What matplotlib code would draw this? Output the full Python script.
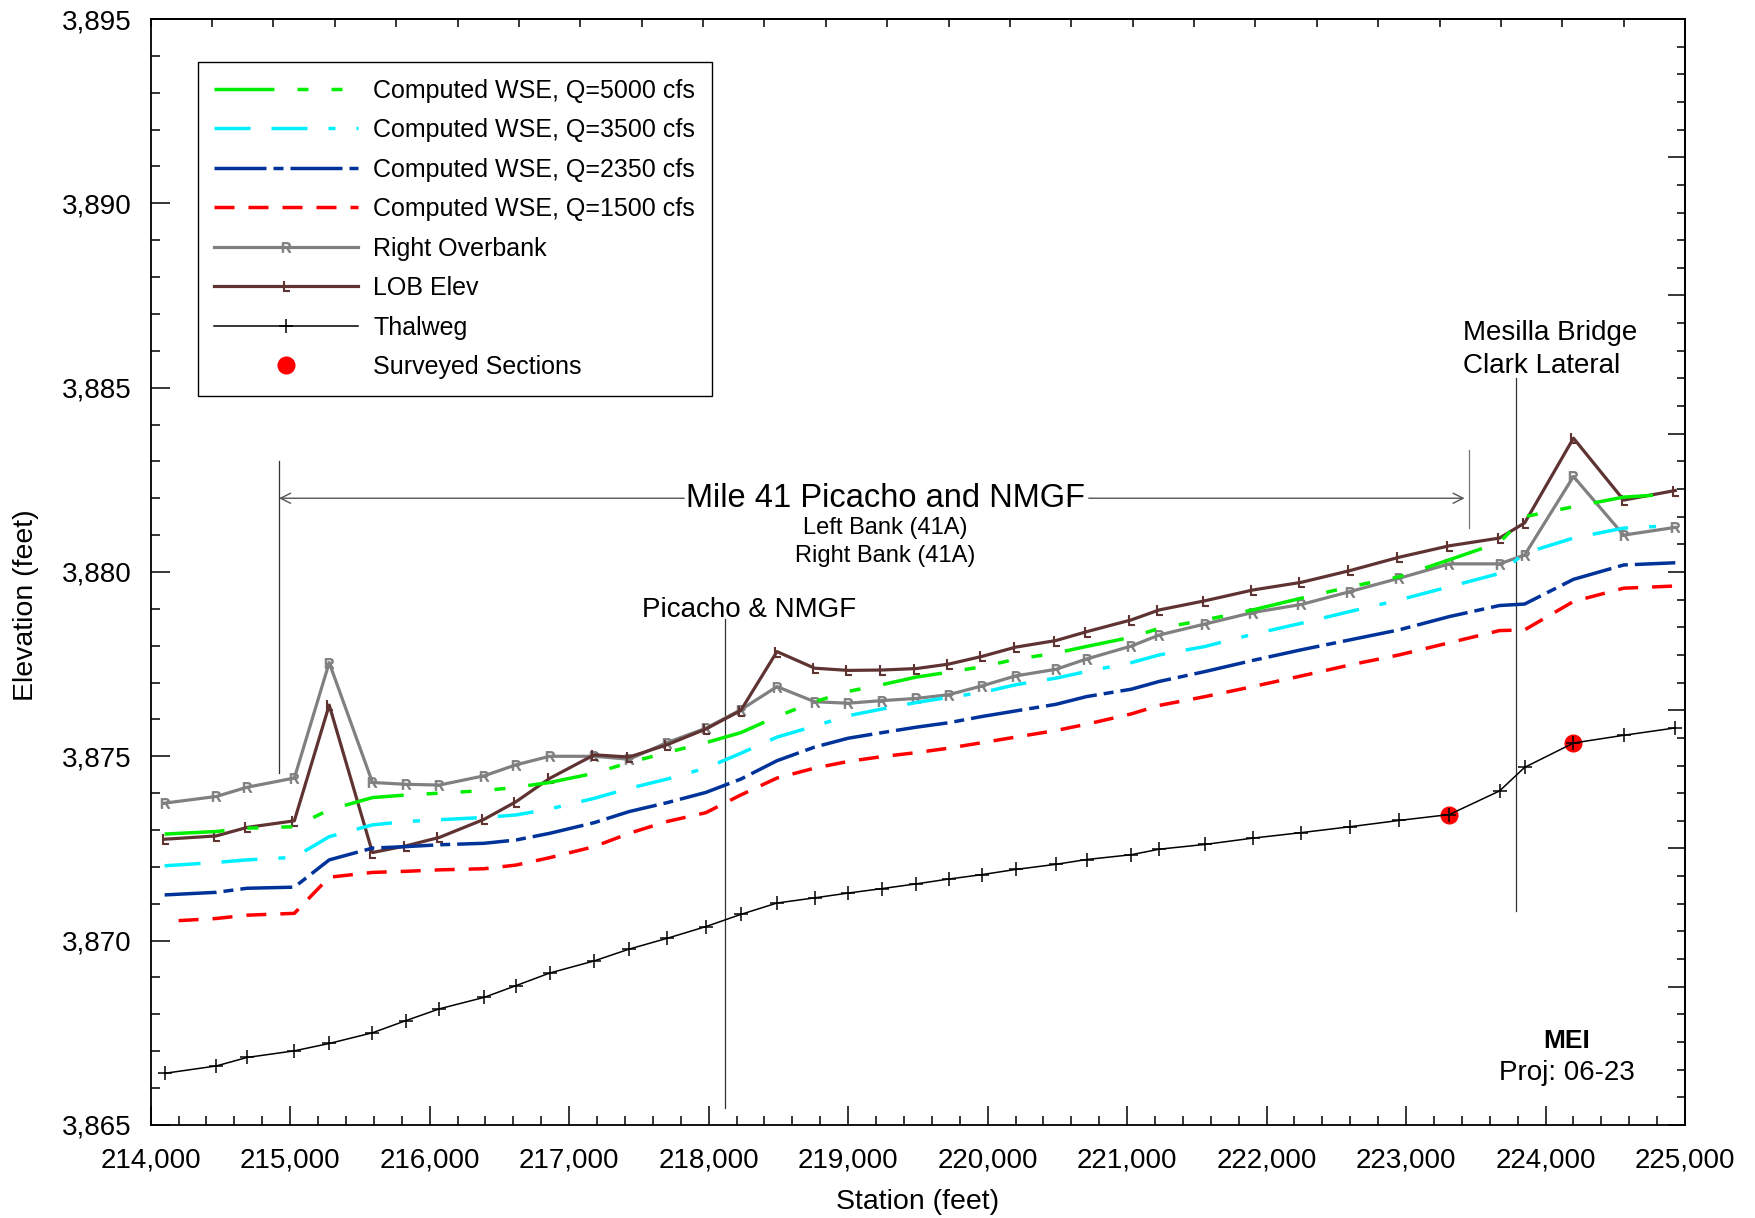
import matplotlib
matplotlib.use('Agg')
import matplotlib.pyplot as plt
from matplotlib.lines import Line2D
from matplotlib.ticker import MultipleLocator, FuncFormatter, FixedLocator, NullLocator

plt.rcParams['font.family'] = ['Liberation Sans', 'DejaVu Sans']
plt.rcParams['lines.scale_dashes'] = False
plt.rcParams['mathtext.fontset'] = 'custom'
plt.rcParams['mathtext.sf'] = 'Liberation Sans'

# ---------------- data ----------------
stations = [214100, 214470, 214690, 215030, 215280, 215590, 215830, 216070, 216390, 216620,
            216860, 217180, 217430, 217700, 217980, 218230, 218490, 218760, 219000, 219240,
            219490, 219720, 219960, 220200, 220490, 220710, 221030, 221230, 221560, 221900,
            222250, 222600, 222950, 223310, 223670, 223850, 224200, 224560, 224930]

wse_5000 = [3872.89, 3872.96, 3873.05, 3873.09, 3873.55, 3873.88, 3873.95, 3874.00, 3874.07, 3874.16,
            3874.29, 3874.54, 3874.83, 3875.10, 3875.37, 3875.64, 3876.08, 3876.48, 3876.76, 3876.94,
            3877.15, 3877.28, 3877.43, 3877.63, 3877.80, 3877.98, 3878.23, 3878.47, 3878.70, 3878.97,
            3879.29, 3879.60, 3879.87, 3880.33, 3880.80, 3881.50, 3881.77, 3882.03, 3882.12]
wse_3500 = [3872.03, 3872.12, 3872.19, 3872.26, 3872.82, 3873.14, 3873.23, 3873.28, 3873.34, 3873.41,
            3873.57, 3873.86, 3874.13, 3874.38, 3874.68, 3875.08, 3875.52, 3875.82, 3876.10, 3876.28,
            3876.46, 3876.60, 3876.73, 3876.94, 3877.12, 3877.30, 3877.54, 3877.75, 3877.98, 3878.31,
            3878.61, 3878.93, 3879.24, 3879.60, 3879.96, 3880.51, 3880.92, 3881.19, 3881.26]
wse_2350 = [3871.24, 3871.31, 3871.42, 3871.45, 3872.19, 3872.51, 3872.55, 3872.60, 3872.64, 3872.73,
            3872.91, 3873.20, 3873.50, 3873.74, 3874.02, 3874.38, 3874.88, 3875.25, 3875.49, 3875.64,
            3875.79, 3875.91, 3876.08, 3876.23, 3876.41, 3876.62, 3876.82, 3877.03, 3877.30, 3877.60,
            3877.89, 3878.16, 3878.43, 3878.79, 3879.09, 3879.13, 3879.80, 3880.19, 3880.25]
wse_1500 = [3870.52, 3870.60, 3870.69, 3870.74, 3871.72, 3871.85, 3871.88, 3871.92, 3871.95, 3872.05,
            3872.25, 3872.55, 3872.91, 3873.23, 3873.47, 3873.95, 3874.41, 3874.68, 3874.86, 3874.99,
            3875.10, 3875.22, 3875.37, 3875.52, 3875.70, 3875.87, 3876.15, 3876.38, 3876.62, 3876.89,
            3877.18, 3877.48, 3877.75, 3878.08, 3878.41, 3878.43, 3879.20, 3879.56, 3879.62]
right_overbank = [3873.73, 3873.91, 3874.16, 3874.41, 3877.54, 3874.29, 3874.24, 3874.22, 3874.47, 3874.77,
                  3875.00, 3875.00, 3874.92, 3875.37, 3875.76, 3876.26, 3876.89, 3876.48, 3876.44, 3876.51,
                  3876.57, 3876.67, 3876.91, 3877.18, 3877.36, 3877.64, 3877.99, 3878.29, 3878.59, 3878.90,
                  3879.12, 3879.47, 3879.83, 3880.22, 3880.22, 3880.46, 3882.59, 3881.00, 3881.21]
lob_elev = [3872.75, 3872.84, 3873.07, 3873.25, 3876.39, 3872.39, 3872.57, 3872.80, 3873.29, 3873.77,
            3874.40, 3875.04, 3874.98, 3875.31, 3875.74, 3876.24, 3877.84, 3877.39, 3877.33, 3877.34,
            3877.38, 3877.50, 3877.71, 3877.96, 3878.14, 3878.38, 3878.70, 3878.97, 3879.22, 3879.51,
            3879.72, 3880.04, 3880.40, 3880.71, 3880.92, 3881.33, 3883.63, 3881.95, 3882.21]
thalweg = [3866.40, 3866.60, 3866.83, 3867.01, 3867.21, 3867.50, 3867.83, 3868.15, 3868.46, 3868.78,
           3869.12, 3869.45, 3869.77, 3870.06, 3870.38, 3870.71, 3871.02, 3871.16, 3871.29, 3871.41,
           3871.54, 3871.67, 3871.79, 3871.93, 3872.07, 3872.20, 3872.33, 3872.48, 3872.61, 3872.78,
           3872.93, 3873.09, 3873.26, 3873.42, 3874.06, 3874.70, 3875.36, 3875.57, 3875.77]
surveyed_st = [223310, 224200]
surveyed_el = [3873.42, 3875.36]

series_labels = ['Computed WSE, Q=5000 cfs', 'Computed WSE, Q=3500 cfs',
                 'Computed WSE, Q=2350 cfs', 'Computed WSE, Q=1500 cfs',
                 'Right Overbank', 'LOB Elev', 'Thalweg', 'Surveyed Sections']

# ---------------- figure ----------------
fig = plt.figure(figsize=(17.56, 12.18), dpi=100)
ax = fig.add_axes([0.0858, 0.0764, 0.8738, 0.908])

P = 0.72  # px -> pt
red_dash = [20*P, 14*P]
h = []
h.append(ax.plot(stations, wse_5000, color='#00ee00', lw=2.5, zorder=4,
                 linestyle=(0, [60*P, 23*P, 11*P, 23*P, 11*P, 23*P, 11*P, 23*P]))[0])
h.append(ax.plot(stations, wse_3500, color='#00f0ff', lw=2.5, zorder=4,
                 linestyle=(0, [36*P, 21*P, 36*P, 21*P, 7*P, 21*P]))[0])
h.append(ax.plot(stations, wse_2350, color='#003399', lw=2.5, zorder=4,
                 linestyle=(0, [52*P, 7*P, 10*P, 7*P]))[0])
ax.plot(stations, wse_1500, color='#ff0000', lw=2.5, zorder=4, linestyle=(20*P, red_dash))
h.append(Line2D([], [], color='#ff0000', lw=2.5, linestyle=(0, red_dash)))
h.append(ax.plot(stations, right_overbank, color='#808080', lw=2.3, zorder=3,
                 marker='$\\mathsf{R}$', ms=7, mec='#808080', mfc='#808080', mew=0.8)[0])
h.append(ax.plot(stations, lob_elev, color='#603333', lw=2.3, zorder=3,
                 marker='$\\mathsf{L}$', ms=7, mec='#603333', mfc='#603333', mew=0.8)[0])
h.append(ax.plot(stations, thalweg, color='black', lw=1.1, zorder=6,
                 marker='+', ms=10, mew=1.1)[0])
h.append(ax.plot(surveyed_st, surveyed_el, linestyle='none', marker='o', ms=12,
                 color='#ff0000', mec='#ff0000', zorder=5)[0])

# ---------------- axes ----------------
ax.set_xlim(214000, 225000)
ax.set_ylim(3865, 3895)
ax.xaxis.set_major_locator(MultipleLocator(1000))
ax.xaxis.set_minor_locator(MultipleLocator(200))
ax.yaxis.set_major_locator(MultipleLocator(5))
ax.yaxis.set_minor_locator(MultipleLocator(1))
fmt = FuncFormatter(lambda v, p: f'{v:,.0f}')
ax.xaxis.set_major_formatter(fmt)
ax.yaxis.set_major_formatter(fmt)
ax.tick_params(which='major', direction='in', length=13.5, width=1.1, labelsize=20, pad=13.5,
               top=False, right=False)
ax.tick_params(axis='x', which='major', pad=16.5)
ax.tick_params(which='minor', direction='in', length=6.5, width=1.1, top=False, right=False)
for s in ax.spines.values():
    s.set_linewidth(1.3)

secx = ax.secondary_xaxis('top')
secx.set_xticks([214000 + 440 * k for k in range(26)])
secx.xaxis.set_minor_locator(NullLocator())
secx.set_xticklabels([])
secx.tick_params(direction='in', length=6, width=1.1)
secx.spines['top'].set_linewidth(1.3)

secy = ax.secondary_yaxis('right')
secy.set_yticks([3865 + 3.75 * k for k in range(9)])
secy.yaxis.set_minor_locator(FixedLocator([3865 + 0.75 * k for k in range(41)]))
secy.set_yticklabels([])
secy.tick_params(which='major', direction='in', length=12.5, width=1.1)
secy.tick_params(which='minor', direction='in', length=6, width=1.1)
secy.spines['right'].set_linewidth(1.3)

ax.set_xlabel('Station (feet)', fontsize=20.5, labelpad=11)
ax.set_ylabel('Elevation (feet)', fontsize=20.5)
ax.yaxis.set_label_coords(-0.073, 0.47)

# ---------------- annotations ----------------
ann = dict(color='#333333', lw=0.9, zorder=2)
ax.plot([214920, 214920], [3874.55, 3883.0], **ann)
ax.plot([223450, 223450], [3881.2, 3883.3], color='#777777', lw=0.9, zorder=2)
ax.plot([218120, 218120], [3865.45, 3878.72], **ann)
ax.plot([223785, 223785], [3870.8, 3885.25], **ann)

ax.text(219270, 3881.77, 'Mile 41 Picacho and NMGF', fontsize=23.5, ha='center', va='baseline')
ax.annotate('', xy=(214920, 3882.0), xytext=(217825, 3882.0),
            arrowprops=dict(arrowstyle='->', color='#555555', lw=1.0, shrinkA=0, shrinkB=0,
                            mutation_scale=18))
ax.annotate('', xy=(223420, 3882.0), xytext=(220725, 3882.0),
            arrowprops=dict(arrowstyle='->', color='#555555', lw=1.0, shrinkA=0, shrinkB=0,
                            mutation_scale=18))
ax.text(219264, 3881.03, 'Left Bank (41A)', fontsize=17, ha='center', va='baseline')
ax.text(219264, 3880.28, 'Right Bank (41A)', fontsize=17, ha='center', va='baseline')
ax.text(217520, 3878.79, 'Picacho & NMGF', fontsize=20, ha='left', va='baseline')
ax.text(223405, 3886.29, 'Mesilla Bridge', fontsize=20, ha='left', va='baseline')
ax.text(223405, 3885.39, 'Clark Lateral', fontsize=20, ha='left', va='baseline')
ax.text(224154, 3867.08, 'MEI', fontsize=19, fontweight='bold', ha='center', va='baseline')
ax.text(224154, 3866.22, 'Proj: 06-23', fontsize=20, ha='center', va='baseline')

# ---------------- legend ----------------
leg = ax.legend(h, series_labels, loc='upper left', bbox_to_anchor=(0.0308, 0.9611),
                borderaxespad=0, fontsize=18, handlelength=5.75, handletextpad=0.6,
                labelspacing=0.62, borderpad=0.66, numpoints=1, fancybox=False,
                framealpha=1, edgecolor='black')
leg.get_frame().set_linewidth(1.0)

fig.savefig('out.png', dpi=100)
